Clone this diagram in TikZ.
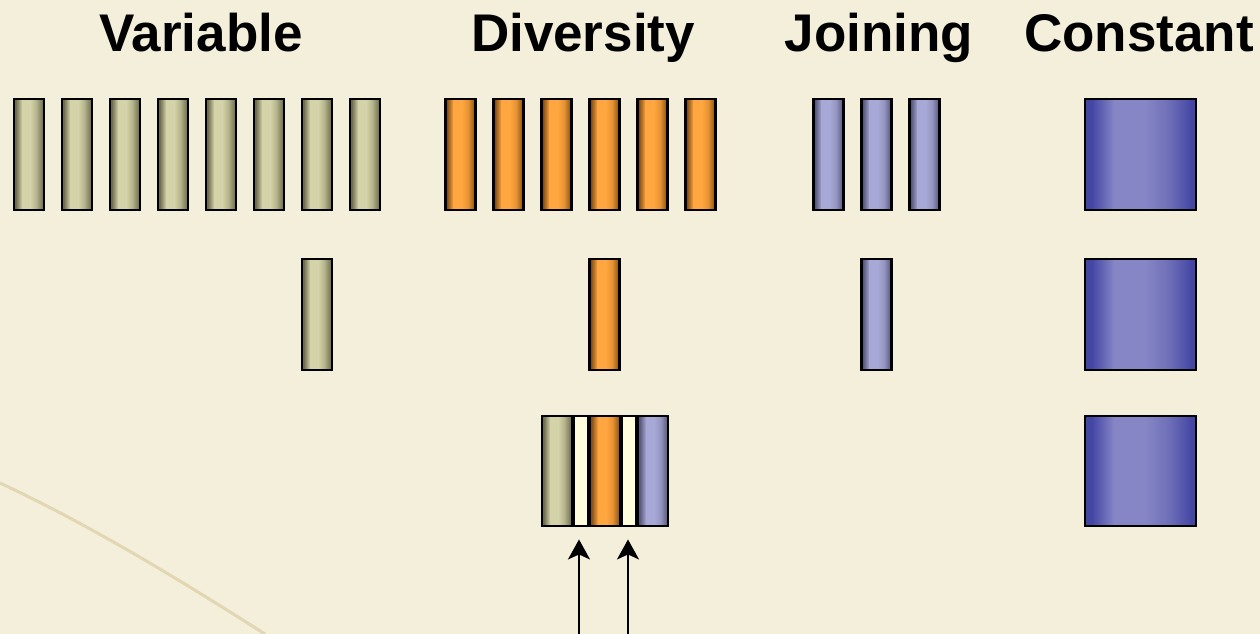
\documentclass[tikz,border=0pt]{standalone}
\usepackage{fontspec}
\setmainfont{Liberation Sans}
\usetikzlibrary{arrows.meta}
\definecolor{bg}{HTML}{F4EFDA}
\definecolor{crease}{HTML}{D6C294}
\definecolor{gd}{HTML}{6E6E50}
\definecolor{gl}{HTML}{D4D2A8}
\definecolor{gm}{HTML}{B0AE88}
\definecolor{od}{HTML}{8A521A}
\definecolor{ol}{HTML}{FFA640}
\definecolor{om}{HTML}{E49030}
\definecolor{bd}{HTML}{5A5A7C}
\definecolor{bl}{HTML}{A8A8D6}
\definecolor{bm}{HTML}{9292BE}
\definecolor{cd}{HTML}{4446A4}
\definecolor{cl}{HTML}{8686C6}
\definecolor{cm}{HTML}{6E6EB8}
\definecolor{wfill}{HTML}{FFFDDC}
\tikzset{
  grad/.style n args={4}{path picture={
    \coordinate (pp) at (path picture bounding box.south west);
    \fill[#2] ([xshift=-2pt]pp) rectangle ++({0.06*#1+2},-300);
    \shade[left color=#2, right color=#3] ([xshift={0.06*#1}]pp) rectangle ++({0.2*#1+0.5},-300);
    \fill[#3] ([xshift={0.26*#1}]pp) rectangle ++({0.28*#1+0.5},-300);
    \shade[left color=#3, right color=#4] ([xshift={0.54*#1}]pp) rectangle ++({0.22*#1+0.5},-300);
    \shade[left color=#4, right color=#2] ([xshift={0.76*#1}]pp) rectangle ++({0.2*#1+0.5},-300);
    \fill[#2] ([xshift={0.96*#1}]pp) rectangle ++({0.04*#1+2},-300);
  }},
  bar/.style={draw=black, line width=2.4pt, minimum width=30pt, minimum height=110.5pt, inner sep=0pt},
  gbar/.style={bar, grad={30}{gd}{gl}{gm}},
  obar/.style={bar, grad={30}{od}{ol}{om}},
  bbar/.style={bar, grad={30}{bd}{bl}{bm}},
  cbox/.style={bar, minimum width=110.5pt, grad={110.5}{cd}{cl}{cm}},
  wbar/.style={bar, fill=wfill, minimum width=14pt},
  title/.style={font=\fontsize{53}{60}\selectfont\bfseries, anchor=base, inner sep=0pt},
  arr/.style={line width=2pt, -{Stealth[length=20pt,width=22pt,inset=5pt]}, shorten >=12pt}
}
\begin{document}
\begin{tikzpicture}[x=1pt,y=-1pt]
\fill[bg] (0,0) rectangle (1260,634);
\useasboundingbox (0,0) rectangle (1260,634);
\draw[crease, line width=3pt, opacity=0.55] (0,483) .. controls (90,525) and (180,580) .. (265,634);
% titles
\node[title] (tv) at (201,52) {Variable};
\node[title] (td) at (583,52) {Diversity};
\node[title] (tj) at (879,52) {Joining};
\node[title] (tc) at (1139,52) {Constant};
% row 1
\foreach \i in {0,...,7} \node[gbar] (v\i) at ({29+48*\i},154.5) {};
\foreach \i in {0,...,5} \node[obar] (d\i) at ({460.5+48*\i},154.5) {};
\foreach \i in {0,...,2} \node[bbar] (j\i) at ({828.5+48*\i},154.5) {};
\node[cbox] (c1) at (1140.5,154.5) {};
% row 2
\node[gbar] (v2r) at (317,314.5) {};
\node[obar] (d2r) at (604.5,314.5) {};
\node[bbar] (j2r) at (876.5,314.5) {};
\node[cbox] (c2) at (1140.5,314.5) {};
% row 3
\node[gbar] (g3) at (557,471) {};
\node[wbar] (w1) at (581,471) {};
\node[obar] (o3) at (605,471) {};
\node[wbar] (w2) at (629,471) {};
\node[bbar] (b3) at (653,471) {};
\node[cbox] (c3) at (1140.5,471) {};
% arrows
\coordinate (a1) at (579,640);
\coordinate (a2) at (628,640);
\draw[arr] (a1) -- (w1.south -| a1);
\draw[arr] (a2) -- (w2.south -| a2);
\end{tikzpicture}
\end{document}
